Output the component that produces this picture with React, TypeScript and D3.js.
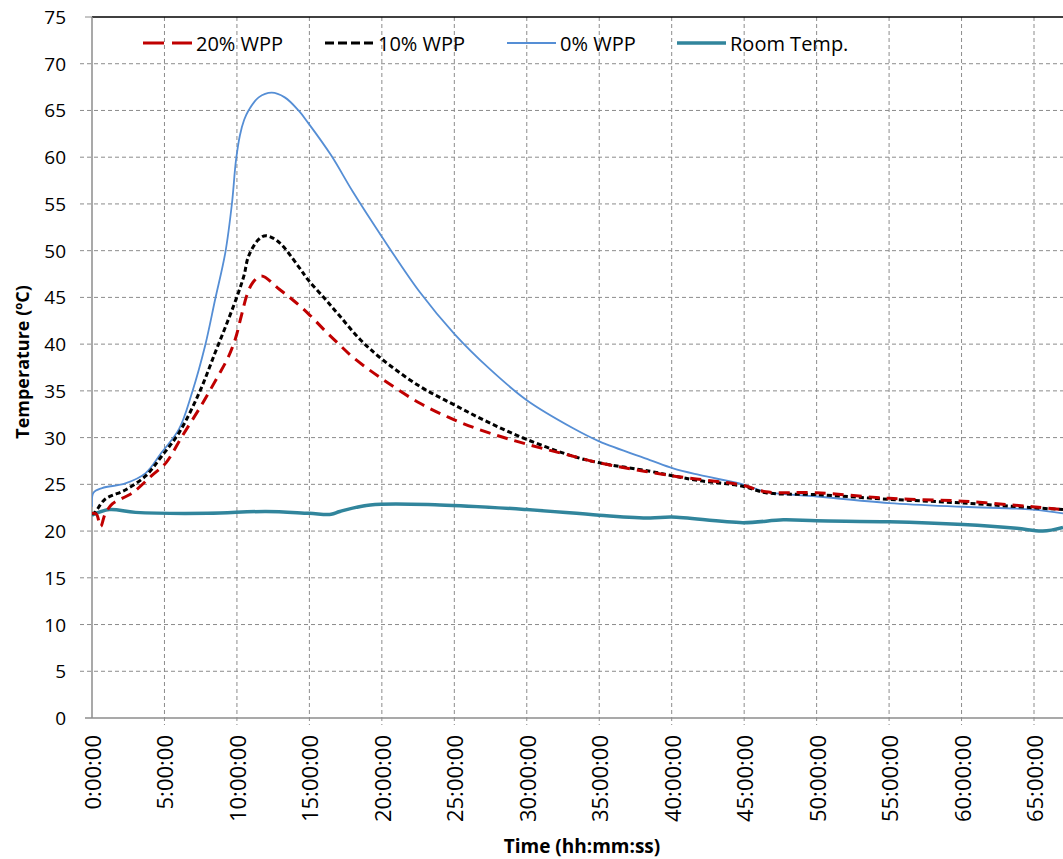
import * as d3 from 'd3';

// hours / °C
const wpp0Hours = [0, 0.1, 0.7, 2.3, 3.7, 4.8, 6.0, 6.9, 7.8, 8.5, 9.2, 9.66, 9.93, 10.2, 10.5, 10.8, 11.5, 12.4, 13.3, 14.25, 14.9, 16.5, 18.0, 20.0, 22.6, 25.0, 27.4, 30.0, 33.2, 35.0, 38.5, 40.1, 41.9, 44.9, 46.5, 50, 55, 60.1, 64.9, 67];
const wpp0Temp = [22.6, 24.1, 24.6, 25.1, 26.2, 28.4, 30.9, 34.8, 39.8, 44.8, 49.8, 55.1, 59.6, 62.3, 64.0, 65.0, 66.4, 66.9, 66.4, 65.0, 63.7, 60.2, 56.3, 51.5, 45.6, 41.1, 37.4, 34.0, 31.0, 29.6, 27.6, 26.7, 26.0, 25.0, 24.2, 23.7, 23.0, 22.6, 22.3, 21.9];

const wpp10Hours = [0, 0.2, 0.9, 2.3, 3.7, 4.8, 6.0, 7.4, 8.5, 9.4, 10.1, 10.5, 10.8, 11.5, 12.0, 12.9, 14.25, 14.9, 16.1, 17.1, 18.5, 20.0, 22.6, 25.0, 27.4, 30.0, 33.2, 35.0, 38.5, 40.1, 41.9, 44.9, 46.5, 50, 55, 60.1, 64.9, 67];
const wpp10Temp = [21.8, 22.0, 23.4, 24.4, 25.9, 28.0, 30.5, 34.8, 39.1, 42.6, 45.5, 47.4, 49.4, 51.2, 51.6, 50.9, 48.3, 46.9, 44.8, 43.0, 40.5, 38.4, 35.5, 33.5, 31.6, 29.8, 28.0, 27.3, 26.4, 25.9, 25.4, 24.8, 24.1, 23.9, 23.4, 23.0, 22.5, 22.3];

const wpp20Hours = [0, 0.3, 0.6, 0.9, 1.4, 2.8, 4.1, 5.1, 6.2, 7.6, 8.7, 9.4, 9.9, 10.3, 10.7, 11.1, 11.7, 12.9, 13.8, 14.9, 16.1, 17.1, 18.0, 20.0, 22.6, 25.0, 27.4, 30.0, 33.2, 35.0, 40.1, 44.9, 46.5, 50, 55, 60.1, 64.9, 67];
const wpp20Temp = [21.9, 21.8, 20.5, 21.8, 22.9, 24.1, 25.9, 27.3, 30.1, 33.6, 36.6, 38.6, 40.6, 43.0, 45.3, 46.6, 47.3, 45.9, 44.8, 43.3, 41.4, 39.9, 38.6, 36.3, 33.7, 31.9, 30.5, 29.3, 28.0, 27.3, 25.9, 24.9, 24.2, 24.1, 23.5, 23.2, 22.6, 22.3];

const roomHours = [0, 1.2, 3, 8, 12, 15, 16.5, 17.1, 19.2, 24, 30, 35, 38.5, 40, 44.9, 47.7, 50, 55, 60.1, 63.8, 65.6, 67];
const roomTemp = [21.7, 22.3, 22.0, 21.9, 22.1, 21.9, 21.8, 22.1, 22.8, 22.8, 22.3, 21.7, 21.4, 21.5, 20.9, 21.2, 21.1, 21.0, 20.7, 20.3, 20.0, 20.4];

const yTicks = d3.range(0, 80, 5);
const xTicks = d3.range(0, 70, 5);
const legendLabels = ['20% WPP', '10% WPP', '0% WPP', 'Room Temp.'];

const W = 1063;
const H = 859;
const margin = { top: 17, right: 0, bottom: 141, left: 92 };
const innerW = W - margin.left - margin.right;
const innerH = H - margin.top - margin.bottom;

const x = d3.scaleLinear().domain([0, 67]).range([0, innerW]);
const y = d3.scaleLinear().domain([0, 75]).range([innerH, 0]);

const fmtTime = (h: number) => `${h}:00:00`;

const series = [
  { hours: wpp20Hours, temp: wpp20Temp, color: '#C00000', width: 3, dash: '11,7', legendDash: '21,8' },
  { hours: wpp10Hours, temp: wpp10Temp, color: '#000000', width: 3, dash: '5,3', legendDash: '9,4' },
  { hours: wpp0Hours, temp: wpp0Temp, color: '#558ED5', width: 1.8, dash: undefined, legendDash: undefined },
  { hours: roomHours, temp: roomTemp, color: '#31859C', width: 3.5, dash: undefined, legendDash: undefined },
];

const legendX = [143, 325, 507, 677];

const font = "'Open Sans', sans-serif";

export default function App() {
  const lineGen = d3
    .line<[number, number]>()
    .x((d) => x(d[0]))
    .y((d) => y(d[1]))
    .curve(d3.curveCatmullRom.alpha(0.5));

  return (
    <svg width={W} height={H} style={{ position: 'absolute', left: 0, top: 0, background: '#fff' }} fontFamily={font}>
      <defs>
        <clipPath id="plot">
          <rect x={0} y={0} width={innerW} height={innerH} />
        </clipPath>
      </defs>
      <g transform={`translate(${margin.left},${margin.top})`}>
        {/* grid */}
        {yTicks.filter((t) => t > 0 && t < 75).map((t) => (
          <line key={'gy' + t} x1={-12} x2={innerW} y1={y(t)} y2={y(t)} stroke="#8c8c8c" strokeWidth={1} strokeDasharray="4,3" />
        ))}
        {xTicks.filter((t) => t > 0).map((t) => (
          <line key={'gx' + t} x1={x(t)} x2={x(t)} y1={0} y2={innerH + 7} stroke="#8c8c8c" strokeWidth={1} strokeDasharray="4,3" />
        ))}
        {/* axes */}
        <line x1={0} x2={innerW} y1={0} y2={0} stroke="#000" strokeWidth={1.5} />
        <line x1={0} x2={0} y1={0} y2={innerH} stroke="#8c8c8c" strokeWidth={1.5} />
        <line x1={-7} x2={innerW} y1={innerH} y2={innerH} stroke="#8c8c8c" strokeWidth={1.5} />
        <line x1={-7} x2={0} y1={0} y2={0} stroke="#8c8c8c" strokeWidth={1} />

        {/* y tick labels */}
        {yTicks.map((t) => (
          <text key={'ly' + t} x={-26} y={y(t)} textAnchor="end" dominantBaseline="central" fontSize={19} fill="#000">
            {t}
          </text>
        ))}
        {/* x tick labels */}
        {xTicks.map((t) => (
          <text
            key={'lx' + t}
            transform={`translate(${x(t)},${innerH + 17}) rotate(-90)`}
            textAnchor="end"
            dominantBaseline="central"
            fontSize={22}
            fill="#000"
          >
            {fmtTime(t)}
          </text>
        ))}

        {/* series */}
        <g clipPath="url(#plot)">
          {[3, 2, 1, 0].map((i) => {
            const s = series[i];
            const pts = s.hours.map((h, k) => [h, s.temp[k]] as [number, number]);
            return (
              <path
                key={'s' + i}
                d={lineGen(pts) || ''}
                fill="none"
                stroke={s.color}
                strokeWidth={s.width}
                strokeDasharray={s.dash}
                strokeLinejoin="round"
              />
            );
          })}
        </g>
      </g>

      {/* legend */}
      {legendLabels.map((lab, i) => {
        const s = series[i];
        return (
          <g key={'lg' + i} transform={`translate(${legendX[i]},43)`}>
            <line x1={0} x2={49} y1={0} y2={0} stroke={s.color} strokeWidth={s.width} strokeDasharray={s.legendDash} />
            <text x={53} y={0} dominantBaseline="central" fontSize={20} fill="#000">
              {lab}
            </text>
          </g>
        );
      })}

      {/* axis titles */}
      <text x={582} y={853} textAnchor="middle" fontSize={19} fontWeight="bold" fill="#000">
        Time (hh:mm:ss)
      </text>
      <text transform="translate(22,362) rotate(-90)" textAnchor="middle" dominantBaseline="central" fontSize={18} fontWeight="bold" fill="#000">
        Temperature (ºC)
      </text>
    </svg>
  );
}
